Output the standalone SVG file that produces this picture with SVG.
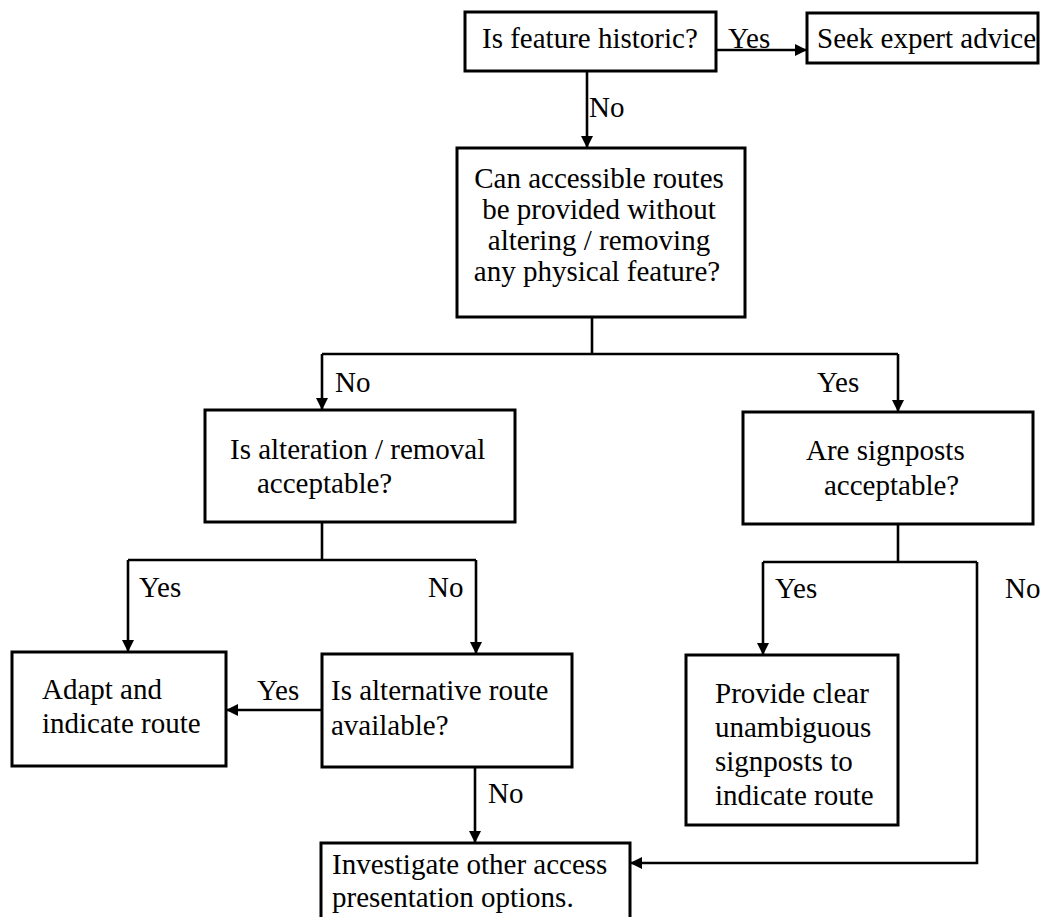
<svg xmlns="http://www.w3.org/2000/svg" width="1044" height="917" viewBox="0 0 1044 917">
  <defs>
    <style>
      .box { fill: #ffffff; stroke: #000000; stroke-width: 3; }
      .t { font-family: "Liberation Serif", "Times New Roman", serif; font-size: 29px; fill: #000000; }
      .c { text-anchor: middle; }
      .ln { fill: none; stroke: #000000; stroke-width: 2.6; }
    </style>
    <marker id="arrow" markerUnits="userSpaceOnUse" markerWidth="14" markerHeight="14" refX="12" refY="6" orient="auto">
      <path d="M0,0 L12,6 L0,12 Z" fill="#000000"/>
    </marker>
  </defs>
  <rect width="1044" height="917" fill="#ffffff"/>

  <!-- connectors -->
  <g id="connectors">
    <!-- historic? yes -> expert advice -->
    <line class="ln" x1="716" y1="50" x2="807" y2="50" marker-end="url(#arrow)"/>
    <!-- historic? no -> accessible routes -->
    <line class="ln" x1="587" y1="71" x2="587" y2="148" marker-end="url(#arrow)"/>
    <!-- accessible routes split -->
    <polyline class="ln" points="592,317 592,354"/>
    <polyline class="ln" points="322,354 898,354"/>
    <line class="ln" x1="322" y1="354" x2="322" y2="410" marker-end="url(#arrow)"/>
    <line class="ln" x1="898" y1="354" x2="898" y2="412" marker-end="url(#arrow)"/>
    <!-- alteration split -->
    <polyline class="ln" points="322,522 322,560"/>
    <polyline class="ln" points="128,560 476,560"/>
    <line class="ln" x1="128" y1="560" x2="128" y2="652" marker-end="url(#arrow)"/>
    <line class="ln" x1="476" y1="560" x2="476" y2="654" marker-end="url(#arrow)"/>
    <!-- alternative route yes -> adapt -->
    <line class="ln" x1="322" y1="710" x2="226" y2="710" marker-end="url(#arrow)"/>
    <!-- alternative route no -> investigate -->
    <line class="ln" x1="475" y1="767" x2="475" y2="843" marker-end="url(#arrow)"/>
    <!-- signposts split -->
    <polyline class="ln" points="898,524 898,562"/>
    <polyline class="ln" points="763,562 977,562"/>
    <line class="ln" x1="763" y1="562" x2="763" y2="655" marker-end="url(#arrow)"/>
    <polyline class="ln" points="977,562 977,863 630,863" marker-end="url(#arrow)"/>

    <!-- branch labels -->
    <text class="t" x="728" y="48">Yes</text>
    <text class="t" x="589" y="117">No</text>
    <text class="t" x="335" y="392">No</text>
    <text class="t" x="817" y="392">Yes</text>
    <text class="t" x="139" y="597">Yes</text>
    <text class="t" x="428" y="597">No</text>
    <text class="t" x="775" y="598">Yes</text>
    <text class="t" x="1005" y="598">No</text>
    <text class="t" x="257" y="700">Yes</text>
    <text class="t" x="488" y="803">No</text>
  </g>

  <g id="historic">
    <rect class="box" x="465" y="12" width="251" height="59"/>
    <text class="t" x="482" y="48">Is feature historic?</text>
  </g>

  <g id="expert">
    <rect class="box" x="807" y="13" width="231" height="50"/>
    <text class="t" x="817" y="48">Seek expert advice</text>
  </g>

  <g id="accessible">
    <rect class="box" x="457" y="148" width="288" height="169"/>
    <text class="t c" x="599" y="188">Can accessible routes</text>
    <text class="t c" x="599" y="219">be provided without</text>
    <text class="t c" x="599" y="250">altering / removing</text>
    <text class="t c" x="597" y="281">any physical feature?</text>
  </g>

  <g id="alteration">
    <rect class="box" x="205" y="410" width="310" height="112"/>
    <text class="t" x="230" y="459">Is alteration / removal</text>
    <text class="t" x="257" y="493">acceptable?</text>
  </g>

  <g id="signposts">
    <rect class="box" x="743" y="412" width="290" height="112"/>
    <text class="t" x="806" y="460">Are signposts</text>
    <text class="t" x="824" y="495">acceptable?</text>
  </g>

  <g id="adapt">
    <rect class="box" x="12" y="652" width="214" height="114"/>
    <text class="t" x="42" y="699">Adapt and</text>
    <text class="t" x="42" y="733">indicate route</text>
  </g>

  <g id="alternative">
    <rect class="box" x="322" y="654" width="250" height="113"/>
    <text class="t" x="331" y="700">Is alternative route</text>
    <text class="t" x="331" y="735">available?</text>
  </g>

  <g id="provide">
    <rect class="box" x="686" y="655" width="212" height="170"/>
    <text class="t" x="715" y="703">Provide clear</text>
    <text class="t" x="715" y="737">unambiguous</text>
    <text class="t" x="715" y="771">signposts to</text>
    <text class="t" x="715" y="805">indicate route</text>
  </g>

  <g id="investigate">
    <rect class="box" x="321" y="843" width="309" height="90"/>
    <text class="t" x="332" y="874">Investigate other access</text>
    <text class="t" x="332" y="907">presentation options.</text>
  </g>
</svg>
